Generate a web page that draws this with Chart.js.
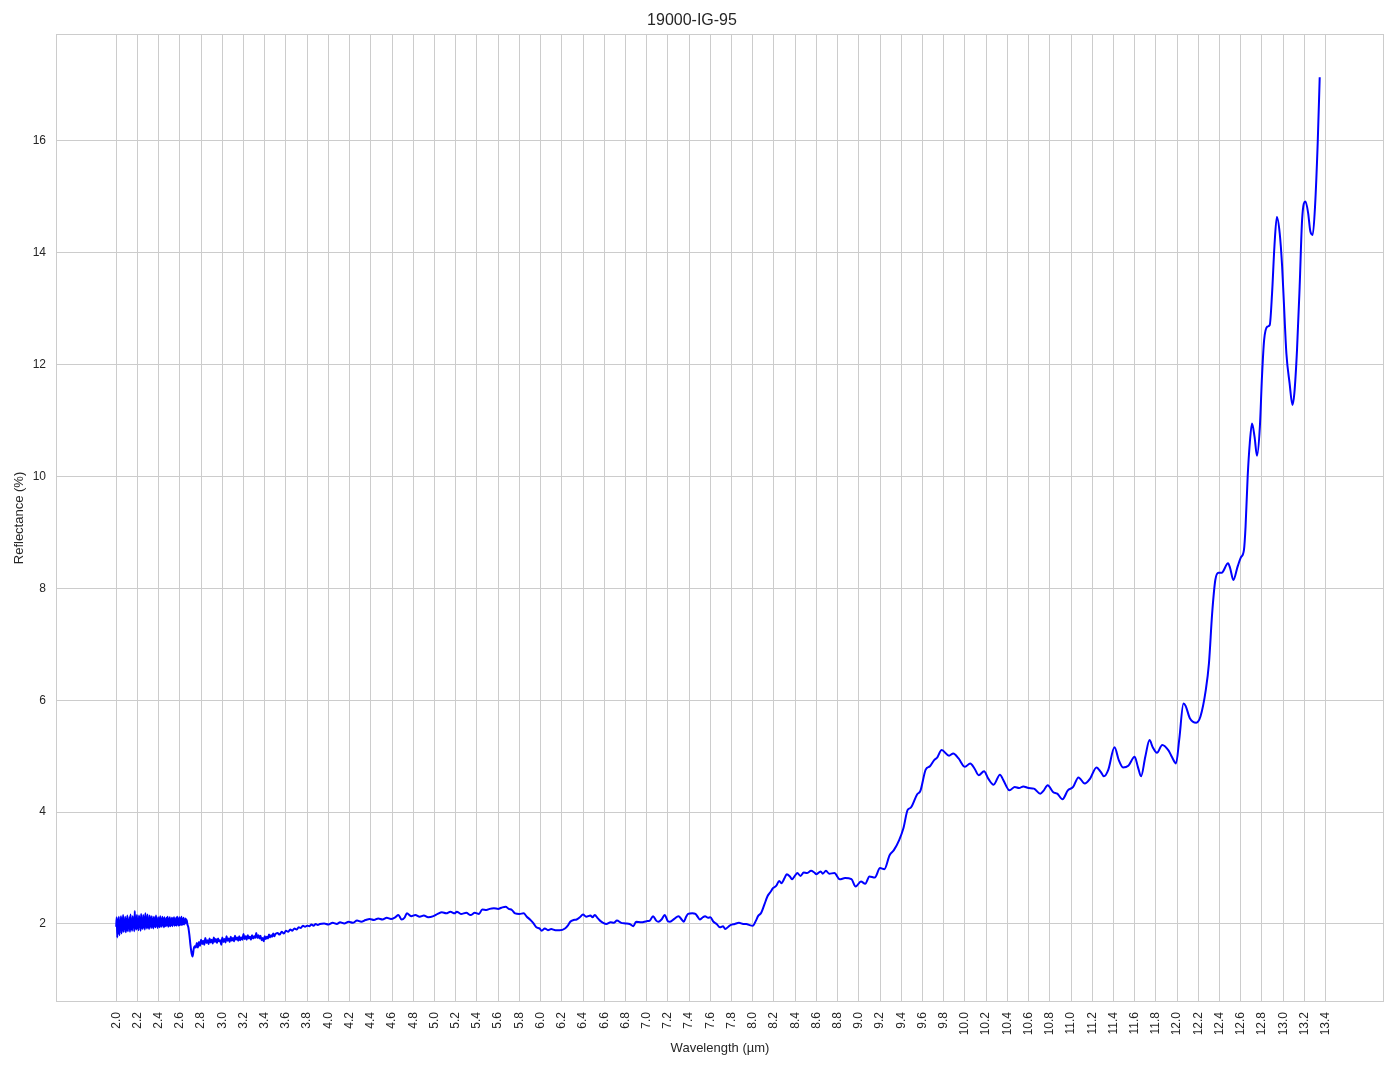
<!DOCTYPE html>
<html>
<head>
<meta charset="utf-8">
<title>19000-IG-95</title>
<script src="https://cdn.jsdelivr.net/npm/chart.js@4.4.1/dist/chart.umd.min.js"></script>
<style>
  html, body { margin: 0; padding: 0; background: #fff; }
  #wrap { width: 1394px; height: 1069px; }
</style>
</head>
<body>
<div id="wrap"><canvas id="chart" width="1394" height="1069"></canvas></div>
<script>
// début bruité du spectre : longueur d'onde (µm) et réflectance (%)
const wlStart = [
  2.000, 2.005, 2.010, 2.015, 2.020, 2.025, 2.030, 2.035, 2.040, 2.045,
  2.050, 2.055, 2.060, 2.065, 2.070, 2.075, 2.080, 2.085, 2.090, 2.095,
  2.100, 2.105, 2.110, 2.115, 2.120, 2.125, 2.130, 2.135, 2.140, 2.145,
  2.150, 2.155, 2.160, 2.165, 2.170, 2.175, 2.180, 2.185, 2.190, 2.195,
  2.200, 2.205, 2.210, 2.215, 2.220, 2.225, 2.230, 2.235, 2.240, 2.245,
  2.250, 2.255, 2.260, 2.265, 2.270, 2.275, 2.280, 2.285, 2.290, 2.295,
  2.300, 2.305, 2.310, 2.315, 2.320, 2.325, 2.330, 2.335, 2.340, 2.345,
  2.350, 2.355, 2.360, 2.365, 2.370, 2.375, 2.380, 2.385, 2.390, 2.395,
  2.400, 2.405, 2.410, 2.415, 2.420, 2.425, 2.430, 2.435, 2.440, 2.445,
  2.450, 2.455, 2.460, 2.465, 2.470, 2.475, 2.480, 2.485, 2.490, 2.495,
  2.500, 2.505, 2.510, 2.515, 2.520, 2.525, 2.530, 2.535, 2.540, 2.545,
  2.550, 2.555, 2.560, 2.565, 2.570, 2.575, 2.580, 2.585, 2.590, 2.595,
  2.600, 2.605, 2.610, 2.615, 2.620, 2.625, 2.630, 2.635, 2.640, 2.645,
  2.650, 2.655, 2.660, 2.665,
  2.67, 2.68, 2.69, 2.70, 2.71, 2.72, 2.73, 2.74, 2.75,
  2.76, 2.77, 2.78, 2.79, 2.80, 2.81, 2.82, 2.83, 2.84, 2.85,
  2.86, 2.87, 2.88, 2.89, 2.90, 2.91, 2.92, 2.93, 2.94, 2.95,
  2.96, 2.97, 2.98, 2.99, 3.00, 3.01, 3.02, 3.03, 3.04, 3.05,
  3.06, 3.07, 3.08, 3.09, 3.10, 3.11, 3.12, 3.13, 3.14, 3.15,
  3.16, 3.17, 3.18, 3.19, 3.20, 3.21, 3.22, 3.23, 3.24, 3.25,
  3.26, 3.27, 3.28, 3.29, 3.30, 3.31, 3.32, 3.33, 3.34, 3.35,
  3.36, 3.37, 3.38, 3.39, 3.40, 3.41, 3.42, 3.43, 3.44, 3.45,
  3.46, 3.47, 3.48, 3.49, 3.50
];
const reflStart = [
  1.95, 2.12, 1.76, 2.08, 1.84, 2.13, 1.80, 2.05, 1.90, 2.14,
  1.83, 2.10, 1.88, 2.16, 1.86, 2.02, 1.92, 2.13, 1.85, 2.09,
  1.89, 2.15, 1.87, 2.06, 1.93, 2.12, 1.86, 2.17, 1.91, 2.08,
  1.88, 2.14, 1.94, 2.10, 1.87, 2.23, 1.92, 2.12, 1.90, 2.16,
  1.93, 2.09, 1.89, 2.15, 1.95, 2.11, 1.88, 2.18, 1.93, 2.07,
  1.91, 2.16, 1.94, 2.12, 1.90, 2.19, 1.95, 2.10, 1.92, 2.17,
  1.94, 2.08, 1.91, 2.15, 1.96, 2.11, 1.93, 2.14, 1.95, 2.09,
  1.92, 2.13, 1.96, 2.10, 1.94, 2.15, 1.97, 2.08, 1.93, 2.12,
  1.96, 2.10, 1.94, 2.14, 1.97, 2.09, 1.95, 2.13, 1.98, 2.10,
  1.94, 2.12, 1.97, 2.08, 1.96, 2.11, 1.98, 2.13, 1.95, 2.09,
  1.97, 2.12, 1.96, 2.08, 1.98, 2.11, 1.96, 2.10, 1.99, 2.12,
  1.97, 2.08, 1.98, 2.11, 1.97, 2.13, 1.99, 2.09, 1.97, 2.12,
  1.98, 2.10, 1.99, 2.13, 1.98, 2.09, 2.00, 2.11, 1.99, 2.08,
  2.01, 2.10, 2.02, 2.07,
  2.00, 1.94, 1.80, 1.62, 1.48, 1.42, 1.55, 1.60, 1.58,
  1.66, 1.58, 1.68, 1.61, 1.72, 1.64, 1.70, 1.63, 1.75, 1.66,
  1.71, 1.64, 1.74, 1.67, 1.72, 1.65, 1.76, 1.68, 1.73, 1.66,
  1.74, 1.69, 1.71, 1.63, 1.76, 1.68, 1.73, 1.67, 1.78, 1.70,
  1.74, 1.68, 1.77, 1.70, 1.75, 1.69, 1.79, 1.72, 1.76, 1.70,
  1.78, 1.71, 1.76, 1.72, 1.82, 1.73, 1.78, 1.72, 1.80, 1.74,
  1.77, 1.72, 1.80, 1.74, 1.78, 1.75, 1.84, 1.75, 1.80, 1.74,
  1.79, 1.71, 1.75, 1.69, 1.78, 1.73, 1.77, 1.74, 1.81, 1.76,
  1.80, 1.77, 1.83, 1.78, 1.82
];

// suite du spectre, plus lisse
const wlRest = [
  3.52, 3.54, 3.56, 3.58, 3.60, 3.62,
  3.64, 3.66, 3.68, 3.70, 3.72, 3.74, 3.76, 3.78, 3.80, 3.82,
  3.84, 3.86, 3.88, 3.90, 3.92, 3.96, 4.00, 4.04, 4.08, 4.11,
  4.15, 4.19, 4.23, 4.27, 4.31, 4.35, 4.39, 4.43, 4.47, 4.51,
  4.55, 4.59, 4.63, 4.66, 4.69, 4.72, 4.74, 4.78, 4.82, 4.86,
  4.90, 4.94, 4.99, 5.03, 5.07, 5.11, 5.15, 5.19, 5.21, 5.25,
  5.30, 5.34, 5.38, 5.42, 5.45, 5.49, 5.52, 5.56, 5.60, 5.63,
  5.67, 5.70, 5.73, 5.76, 5.80, 5.84, 5.87, 5.90, 5.93, 5.96,
  5.99, 6.01, 6.04, 6.07, 6.10, 6.14, 6.18, 6.23, 6.26, 6.28,
  6.31, 6.34, 6.37, 6.40, 6.43, 6.47, 6.49, 6.51, 6.54, 6.56,
  6.59, 6.62, 6.66, 6.69, 6.72, 6.76, 6.80, 6.84, 6.875, 6.90,
  6.95, 7.00, 7.03, 7.06, 7.09, 7.11, 7.14, 7.17, 7.20, 7.22,
  7.26, 7.30, 7.33, 7.35, 7.37, 7.39, 7.43, 7.46, 7.48, 7.50,
  7.53, 7.55, 7.58, 7.60, 7.63, 7.66, 7.69, 7.72, 7.74, 7.77,
  7.79, 7.83, 7.87, 7.91, 7.94, 7.97, 8.00, 8.03, 8.05, 8.08,
  8.11, 8.14, 8.17, 8.19, 8.22, 8.25, 8.27, 8.30, 8.32, 8.35,
  8.37, 8.40, 8.42, 8.45, 8.48, 8.51, 8.55, 8.58, 8.60, 8.64,
  8.66, 8.69, 8.72, 8.77, 8.82, 8.87, 8.93, 8.97, 9.02, 9.06,
  9.10, 9.15, 9.20, 9.24, 9.29, 9.33, 9.38, 9.42, 9.46, 9.49,
  9.55, 9.58, 9.63, 9.67, 9.71, 9.74, 9.78, 9.85, 9.89, 9.94,
  10.00, 10.05, 10.09, 10.13, 10.18, 10.22, 10.27, 10.33, 10.36, 10.42,
  10.47, 10.51, 10.55, 10.60, 10.65, 10.71, 10.74, 10.78, 10.83, 10.87,
  10.92, 10.97, 11.02, 11.07, 11.13, 11.18, 11.24, 11.28, 11.31, 11.35,
  11.41, 11.45, 11.49, 11.54, 11.60, 11.63, 11.66, 11.70, 11.74, 11.77,
  11.81, 11.86, 11.92, 11.95, 11.99, 12.02, 12.06, 12.08, 12.12, 12.18,
  12.22, 12.27, 12.30, 12.33, 12.36, 12.39, 12.42, 12.48, 12.50, 12.53,
  12.57, 12.60, 12.63, 12.645, 12.665, 12.685, 12.706, 12.73, 12.753, 12.78,
  12.80, 12.82, 12.85, 12.873, 12.895, 12.917, 12.94, 12.967, 12.99, 13.005,
  13.03, 13.06, 13.087, 13.105, 13.13, 13.155, 13.178, 13.21, 13.235, 13.256,
  13.278, 13.30, 13.325, 13.344
];
const reflRest = [
  1.84, 1.81, 1.86, 1.83, 1.88, 1.86,
  1.90, 1.88, 1.92, 1.90, 1.94, 1.93, 1.97, 1.95, 1.97, 1.96,
  1.99, 1.97, 2.00, 1.98, 2.00, 2.01, 1.99, 2.02, 2.00, 2.03,
  2.01, 2.04, 2.02, 2.06, 2.04, 2.07, 2.09, 2.07, 2.10, 2.08,
  2.11, 2.09, 2.12, 2.16, 2.08, 2.12, 2.19, 2.14, 2.16, 2.13,
  2.15, 2.12, 2.14, 2.18, 2.21, 2.19, 2.22, 2.19, 2.22, 2.18,
  2.20, 2.16, 2.20, 2.18, 2.26, 2.25, 2.27, 2.28, 2.27, 2.29,
  2.31, 2.27, 2.25, 2.19, 2.18, 2.19, 2.13, 2.08, 2.02, 1.94,
  1.92, 1.88, 1.92, 1.89, 1.91, 1.89, 1.89, 1.92, 1.98, 2.04,
  2.07, 2.08, 2.12, 2.17, 2.13, 2.15, 2.12, 2.16, 2.10, 2.06,
  2.02, 2.00, 2.03, 2.02, 2.06, 2.02, 2.01, 2.00, 1.96, 2.04,
  2.03, 2.05, 2.06, 2.14, 2.06, 2.04, 2.08, 2.16, 2.05, 2.04,
  2.09, 2.14, 2.08, 2.04, 2.12, 2.18, 2.19, 2.18, 2.13, 2.08,
  2.12, 2.14, 2.11, 2.12, 2.04, 2.00, 1.94, 1.96, 1.91, 1.95,
  1.98, 2.00, 2.02, 2.00, 2.00, 1.98, 1.97, 2.06, 2.14, 2.20,
  2.35, 2.50, 2.58, 2.64, 2.68, 2.77, 2.73, 2.82, 2.89, 2.85,
  2.80, 2.87, 2.91, 2.86, 2.92, 2.91, 2.95, 2.92, 2.89, 2.94,
  2.90, 2.95, 2.90, 2.91, 2.80, 2.82, 2.80, 2.67, 2.76, 2.72,
  2.85, 2.83, 3.00, 2.98, 3.23, 3.32, 3.50, 3.71, 4.04, 4.08,
  4.32, 4.38, 4.76, 4.82, 4.93, 4.98, 5.11, 5.01, 5.05, 4.96,
  4.81, 4.87, 4.78, 4.66, 4.73, 4.60, 4.49, 4.67, 4.58, 4.39,
  4.45, 4.43, 4.46, 4.43, 4.42, 4.33, 4.38, 4.48, 4.36, 4.33,
  4.23, 4.39, 4.45, 4.62, 4.51, 4.60, 4.80, 4.72, 4.64, 4.75,
  5.16, 4.93, 4.80, 4.83, 4.99, 4.81, 4.64, 4.99, 5.29, 5.16,
  5.06, 5.20, 5.10, 4.99, 4.87, 5.30, 5.94, 5.90, 5.68, 5.60,
  5.71, 6.18, 6.66, 7.55, 8.15, 8.28, 8.28, 8.45, 8.36, 8.15,
  8.39, 8.55, 8.69, 9.10, 10.00, 10.60, 10.95, 10.71, 10.37, 10.89,
  11.79, 12.44, 12.68, 12.71, 13.28, 14.11, 14.64, 14.35, 13.75, 13.16,
  12.20, 11.67, 11.28, 11.49, 12.26, 13.40, 14.59, 14.92, 14.71, 14.38,
  14.32, 14.83, 15.96, 17.14
];

const xTicks = [2.0, 2.2, 2.4, 2.6, 2.8, 3.0, 3.2, 3.4, 3.6, 3.8, 4.0, 4.2, 4.4, 4.6, 4.8,
  5.0, 5.2, 5.4, 5.6, 5.8, 6.0, 6.2, 6.4, 6.6, 6.8, 7.0, 7.2, 7.4, 7.6, 7.8, 8.0, 8.2,
  8.4, 8.6, 8.8, 9.0, 9.2, 9.4, 9.6, 9.8, 10.0, 10.2, 10.4, 10.6, 10.8, 11.0, 11.2,
  11.4, 11.6, 11.8, 12.0, 12.2, 12.4, 12.6, 12.8, 13.0, 13.2, 13.4];
const yTicks = [2, 4, 6, 8, 10, 12, 14, 16];

const gridColor = '#cccccc';
const textColor = '#262626';
const fontFamily = '"Liberation Sans", Arial, sans-serif';

const wavelength = wlStart.concat(wlRest);
const reflectance = reflStart.concat(reflRest);

// cadre complet autour de la zone de tracé
const frame = {
    id: 'frame',
    afterDraw(chart) {
        const { ctx, chartArea: a } = chart;
        ctx.save();
        ctx.strokeStyle = gridColor;
        ctx.lineWidth = 1;
        ctx.strokeRect(a.left + 0.5, a.top + 0.5, a.right - a.left - 1, a.bottom - a.top - 1);
        ctx.restore();
    }
};

new Chart(document.getElementById('chart'), {
    type: 'line',
    data: {
        datasets: [{
            data: wavelength.map((x, i) => ({ x: x, y: reflectance[i] })),
            borderColor: '#0000ff',
            borderWidth: 2,
            pointRadius: 0,
            fill: false,
            cubicInterpolationMode: 'monotone'
        }]
    },
    options: {
        responsive: false,
        animation: false,
        layout: { padding: { left: 0, right: 10, top: 0, bottom: 0 } },
        plugins: {
            legend: { display: false },
            tooltip: { enabled: false },
            title: {
                display: true,
                text: '19000-IG-95',
                color: textColor,
                font: { family: fontFamily, size: 16, weight: 'normal' },
                padding: { top: 10.5, bottom: 4.3 }
            }
        },
        scales: {
            x: {
                type: 'linear',
                min: 1.4325,
                max: 13.95,
                afterBuildTicks: s => { s.ticks = xTicks.map(v => ({ value: v })); },
                afterFit: s => { s.height = 67; },
                ticks: {
                    color: textColor,
                    font: { family: fontFamily, size: 12 },
                    maxRotation: 90,
                    minRotation: 90,
                    padding: 10,
                    autoSkip: false,
                    callback: v => v.toFixed(1)
                },
                grid: { color: gridColor, lineWidth: 1, drawTicks: false },
                border: { display: false },
                title: {
                    display: true,
                    text: 'Wavelength (µm)',
                    color: textColor,
                    font: { family: fontFamily, size: 13 },
                    padding: { top: 0, bottom: 13 }
                }
            },
            y: {
                type: 'linear',
                min: 0.605,
                max: 17.913,
                afterBuildTicks: s => { s.ticks = yTicks.map(v => ({ value: v })); },
                afterFit: s => { s.width = 56; },
                ticks: {
                    color: textColor,
                    font: { family: fontFamily, size: 12 },
                    padding: 10,
                    callback: v => String(v)
                },
                grid: { color: gridColor, lineWidth: 1, drawTicks: false },
                border: { display: false },
                title: {
                    display: true,
                    text: 'Reflectance (%)',
                    color: textColor,
                    font: { family: fontFamily, size: 13 },
                    padding: { top: 12, bottom: 0 }
                }
            }
        }
    },
    plugins: [frame]
});
</script>
</body>
</html>
